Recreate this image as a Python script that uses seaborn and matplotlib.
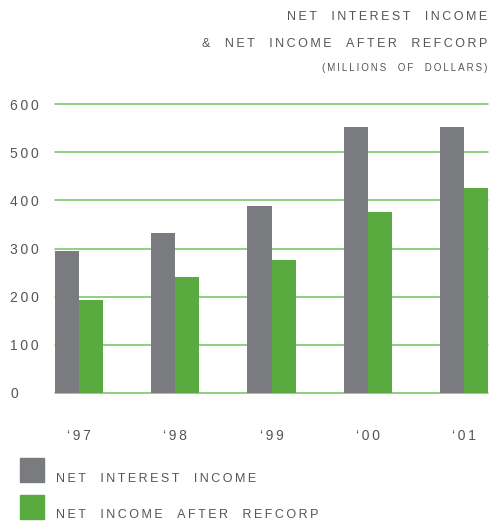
import matplotlib
matplotlib.use("Agg")
import matplotlib.pyplot as plt
import seaborn as sns
import pandas as pd

years = ["\u201897", "\u201898", "\u201899", "\u201800", "\u201801"]
net_interest = [295, 332, 388, 552, 552]
net_income = [194, 241, 277, 375, 425]
series_names = ["NET INTEREST INCOME", "NET INCOME AFTER REFCORP"]
yticks = [0, 100, 200, 300, 400, 500, 600]

GRAY = "#7a7b7f"
GREEN = "#5aab3f"
GRID = "#72c35e"
TXT = "#555558"

def track(s, sp="\u2009"):
    return sp.join(list(s))

sns.set_theme(style="white")
plt.rcParams["font.family"] = ["Liberation Sans", "DejaVu Sans"]

df = pd.DataFrame({
    "year": years * 2,
    "value": net_interest + net_income,
    "series": [series_names[0]] * 5 + [series_names[1]] * 5,
})

fig = plt.figure(figsize=(4.94, 5.21), dpi=100)
ax = fig.add_axes([55 / 494, 1 - 393 / 521, (488 - 55) / 494, (393 - 104) / 521])

sns.barplot(data=df, x="year", y="value", hue="series", palette=[GRAY, GREEN],
            width=0.5, ax=ax, legend=False, saturation=1)
for p in ax.patches:
    p.set_linewidth(0)

ax.set_xlim(-0.25, 4.25)
ax.set_ylim(0, 600)
ax.set_axisbelow(True)
for v in yticks:
    ax.axhline(v, color=GRID, lw=1.1, zorder=0, clip_on=False)
for s in ax.spines.values():
    s.set_visible(False)
ax.set_yticks(yticks)
ax.set_yticklabels([track(str(v)) for v in yticks], fontsize=10, color=TXT, ha="left")
ax.tick_params(axis="y", length=0, pad=(55 - 10) * 0.72)
ax.tick_params(axis="x", length=0, pad=26)
ax.set_xticklabels([track(y) for y in years], fontsize=10, color=TXT)
ax.set_xlabel("")
ax.set_ylabel("")

fig.text(487 / 494, 1 - 17 / 521, track("NET  INTEREST  INCOME"), ha="right", va="center",
         fontsize=9, color=TXT)
fig.text(487 / 494, 1 - 44 / 521, track("&  NET  INCOME  AFTER  REFCORP"), ha="right", va="center",
         fontsize=9, color=TXT)
fig.text(487 / 494, 1 - 68 / 521, track("(MILLIONS  OF  DOLLARS)"), ha="right", va="center",
         fontsize=7, color=TXT)

sq_top = [458, 495]
txt_base = [482, 518]
for name, col, top, base in zip(series_names, [GRAY, GREEN], sq_top, txt_base):
    fig.patches.append(plt.Rectangle((20 / 494, 1 - (top + 24) / 521), 24 / 494, 24 / 521,
                                     transform=fig.transFigure, color=col, figure=fig))
    fig.text(56 / 494, 1 - base / 521, track(name.replace(" ", "  ")), ha="left",
             va="baseline", fontsize=9, color=TXT)

fig.savefig("out.png", dpi=100)
